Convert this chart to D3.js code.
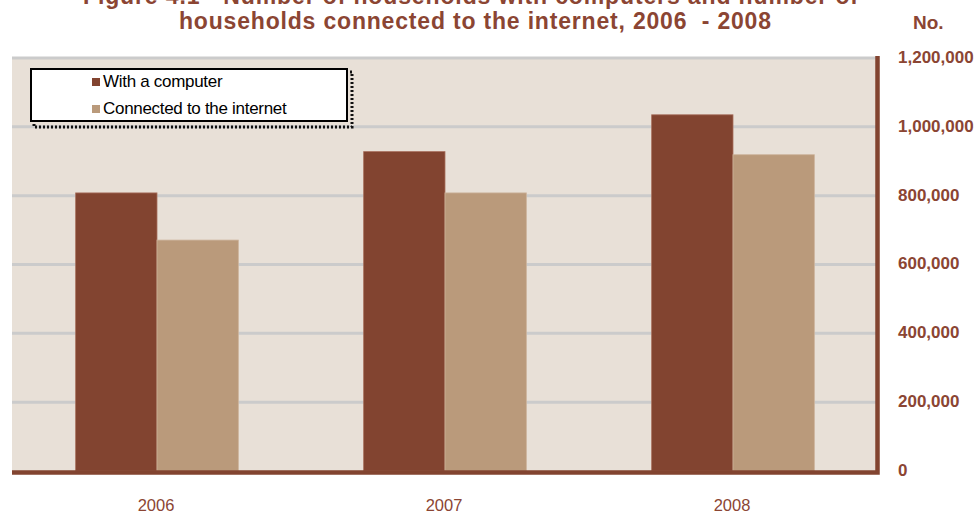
<!DOCTYPE html>
<html>
<head>
<meta charset="utf-8">
<script src="https://cdn.jsdelivr.net/npm/d3@7"></script>
<style>
  html, body { margin: 0; padding: 0; background: #ffffff; }
  svg { display: block; }
</style>
</head>
<body>
<svg id="chart" width="976" height="513"></svg>
<script>
// Households with a computer and households connected to the internet
const years = ["2006", "2007", "2008"];
const seriesNames = ["With a computer", "Connected to the internet"];
const withComputer = [808000, 928000, 1035000];
const connectedInternet = [671000, 808000, 919000];
const yTicks = [0, 200000, 400000, 600000, 800000, 1000000, 1200000];
const titleLines = [
  "Figure 4.1 - Number of households with computers and number of",
  "households connected to the internet, 2006  - 2008"
];

const colors = ["#824430", "#BA9A7B"];
const textColor = "#8B4533";
const font = "'Liberation Sans', Arial, sans-serif";

const svg = d3.select("#chart");
const plot = { left: 12, right: 876, top: 58, bottom: 471 };

const x = d3.scaleBand().domain(years).range([plot.left, plot.right]).paddingInner(0).paddingOuter(0);
const xs = d3.scaleBand().domain(seriesNames).range([0, x.bandwidth()]).paddingInner(0).paddingOuter(0.77);
const y = d3.scaleLinear().domain([0, 1200000]).range([plot.bottom, plot.top]);

// plot background
svg.append("rect")
  .attr("x", plot.left).attr("y", plot.top)
  .attr("width", plot.right - plot.left).attr("height", plot.bottom - plot.top)
  .attr("fill", "#E8E0D7");

// gridlines
svg.append("g").selectAll("line")
  .data(yTicks.filter(d => d > 0))
  .join("line")
  .attr("x1", plot.left).attr("x2", plot.right)
  .attr("y1", d => y(d)).attr("y2", d => y(d))
  .attr("stroke", "#CBCBCB").attr("stroke-width", 3);

// bars
const rows = years.map((yr, i) => ({ year: yr, values: [withComputer[i], connectedInternet[i]] }));
const groups = svg.append("g").selectAll("g")
  .data(rows).join("g")
  .attr("transform", d => `translate(${x(d.year) + 1},0)`);
groups.selectAll("rect")
  .data(d => d.values.map((v, k) => ({ name: seriesNames[k], value: v, k })))
  .join("rect")
  .attr("x", d => xs(d.name))
  .attr("y", d => y(d.value))
  .attr("width", xs.bandwidth())
  .attr("height", d => plot.bottom - y(d.value))
  .attr("fill", d => colors[d.k])
  .attr("stroke", d => d.k === 0 ? "#A8705E" : "#CDB49C")
  .attr("stroke-width", 0.8);

// axis lines (right and bottom)
svg.append("path")
  .attr("d", `M${plot.left},${plot.bottom + 1.5}H${plot.right + 1.5}V${plot.top - 2}`)
  .attr("fill", "none").attr("stroke", "#824430").attr("stroke-width", 4.5);

// right axis tick labels
const yAxis = d3.axisRight(y).tickValues(yTicks).tickFormat(d3.format(",")).tickSize(0).tickPadding(20);
const ya = svg.append("g").attr("transform", `translate(${plot.right + 2},-1)`).call(yAxis);
ya.select(".domain").remove();
ya.selectAll("text")
  .attr("fill", textColor).attr("font-family", font)
  .attr("font-size", 17).attr("font-weight", "bold");

// bottom axis labels
const xAxis = d3.axisBottom(x).tickSize(0).tickPadding(28);
const xa = svg.append("g").attr("transform", `translate(0,${plot.bottom})`).call(xAxis);
xa.select(".domain").remove();
xa.selectAll("text")
  .attr("fill", textColor).attr("font-family", font).attr("font-size", 16.5);

// title (first line runs off the top edge)
const titleSpan = [[83, 858], [179, 771]];
svg.append("g").selectAll("text")
  .data(titleLines).join("text")
  .attr("x", (d, i) => titleSpan[i][0])
  .attr("y", (d, i) => 3.5 + i * 25.5)
  .attr("textLength", (d, i) => titleSpan[i][1] - titleSpan[i][0])
  .attr("lengthAdjust", "spacing")
  .attr("xml:space", "preserve")
  .style("white-space", "pre")
  .attr("fill", textColor).attr("font-family", "'Liberation Sans Narrow', " + font)
  .attr("font-size", 23).attr("font-weight", "bold")
  .text(d => d);

svg.append("text")
  .attr("x", 913).attr("y", 29)
  .attr("fill", textColor).attr("font-family", font)
  .attr("font-size", 19).attr("font-weight", "bold")
  .text("No.");

// legend
const lg = svg.append("g");
lg.append("rect")
  .attr("x", 34).attr("y", 72).attr("width", 318).attr("height", 55)
  .attr("fill", "none").attr("stroke", "#111").attr("stroke-width", 3)
  .attr("stroke-dasharray", "2,2");
lg.append("rect")
  .attr("x", 31).attr("y", 69).attr("width", 316).attr("height", 52)
  .attr("fill", "#ffffff").attr("stroke", "#000").attr("stroke-width", 2);
const items = lg.selectAll("g.item").data(seriesNames).join("g")
  .attr("class", "item")
  .attr("transform", (d, i) => `translate(92,${78 + i * 27})`);
items.append("rect").attr("width", 8).attr("height", 8).attr("fill", (d, i) => colors[i]);
items.append("text")
  .attr("x", 11).attr("y", 9)
  .attr("font-family", font).attr("font-size", 17).attr("fill", "#000")
  .attr("letter-spacing", -0.3)
  .text(d => d);
</script>
</body>
</html>
